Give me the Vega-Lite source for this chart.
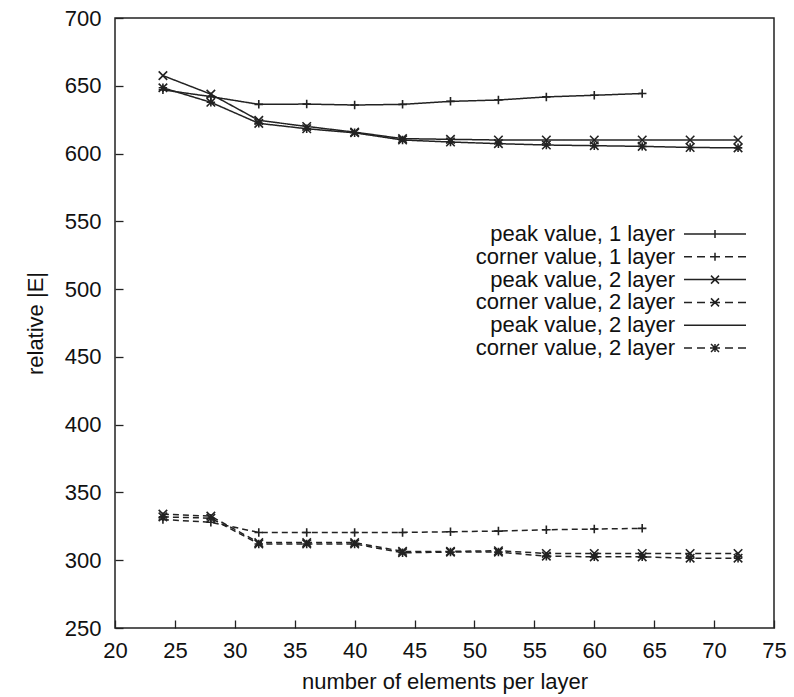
{
  "$schema": "https://vega.github.io/schema/vega-lite/v6.json",
  "autosize": {"type": "none"},
  "padding": {"left": 115, "top": 18, "right": 20, "bottom": 69},
  "width": 659,
  "height": 610,
  "background": "white",
  "data": {"values": [
    {"n": 24, "value": 647, "series": "s1"},
    {"n": 28, "value": 642, "series": "s1"},
    {"n": 32, "value": 636.3, "series": "s1"},
    {"n": 36, "value": 636.5, "series": "s1"},
    {"n": 40, "value": 635.8, "series": "s1"},
    {"n": 44, "value": 636.3, "series": "s1"},
    {"n": 48, "value": 638.5, "series": "s1"},
    {"n": 52, "value": 639.5, "series": "s1"},
    {"n": 56, "value": 641.8, "series": "s1"},
    {"n": 60, "value": 643, "series": "s1"},
    {"n": 64, "value": 644.3, "series": "s1"},
    {"n": 24, "value": 330, "series": "s2"},
    {"n": 28, "value": 328, "series": "s2"},
    {"n": 32, "value": 320.5, "series": "s2"},
    {"n": 36, "value": 320.5, "series": "s2"},
    {"n": 40, "value": 320.5, "series": "s2"},
    {"n": 44, "value": 320.5, "series": "s2"},
    {"n": 48, "value": 321, "series": "s2"},
    {"n": 52, "value": 321.5, "series": "s2"},
    {"n": 56, "value": 322.5, "series": "s2"},
    {"n": 60, "value": 323, "series": "s2"},
    {"n": 64, "value": 323.5, "series": "s2"},
    {"n": 24, "value": 657.5, "series": "s3"},
    {"n": 28, "value": 643.8, "series": "s3"},
    {"n": 32, "value": 624.5, "series": "s3"},
    {"n": 36, "value": 620, "series": "s3"},
    {"n": 40, "value": 615.8, "series": "s3"},
    {"n": 44, "value": 611, "series": "s3"},
    {"n": 48, "value": 610.5, "series": "s3"},
    {"n": 52, "value": 610, "series": "s3"},
    {"n": 56, "value": 610, "series": "s3"},
    {"n": 60, "value": 610, "series": "s3"},
    {"n": 64, "value": 610, "series": "s3"},
    {"n": 68, "value": 610, "series": "s3"},
    {"n": 72, "value": 610, "series": "s3"},
    {"n": 24, "value": 334, "series": "s4"},
    {"n": 28, "value": 332.5, "series": "s4"},
    {"n": 32, "value": 313, "series": "s4"},
    {"n": 36, "value": 313, "series": "s4"},
    {"n": 40, "value": 313, "series": "s4"},
    {"n": 44, "value": 306.5, "series": "s4"},
    {"n": 48, "value": 306.5, "series": "s4"},
    {"n": 52, "value": 307, "series": "s4"},
    {"n": 56, "value": 305, "series": "s4"},
    {"n": 60, "value": 305, "series": "s4"},
    {"n": 64, "value": 305, "series": "s4"},
    {"n": 68, "value": 305, "series": "s4"},
    {"n": 72, "value": 305, "series": "s4"},
    {"n": 24, "value": 648.5, "series": "s5"},
    {"n": 28, "value": 637.8, "series": "s5"},
    {"n": 32, "value": 622.3, "series": "s5"},
    {"n": 36, "value": 618.3, "series": "s5"},
    {"n": 40, "value": 615.3, "series": "s5"},
    {"n": 44, "value": 610, "series": "s5"},
    {"n": 48, "value": 608.5, "series": "s5"},
    {"n": 52, "value": 607.3, "series": "s5"},
    {"n": 56, "value": 606.3, "series": "s5"},
    {"n": 60, "value": 605.8, "series": "s5"},
    {"n": 64, "value": 605.3, "series": "s5"},
    {"n": 68, "value": 604.5, "series": "s5"},
    {"n": 72, "value": 604.2, "series": "s5"},
    {"n": 24, "value": 332, "series": "s6"},
    {"n": 28, "value": 331, "series": "s6"},
    {"n": 32, "value": 312, "series": "s6"},
    {"n": 36, "value": 312, "series": "s6"},
    {"n": 40, "value": 312, "series": "s6"},
    {"n": 44, "value": 305.5, "series": "s6"},
    {"n": 48, "value": 306, "series": "s6"},
    {"n": 52, "value": 306, "series": "s6"},
    {"n": 56, "value": 303, "series": "s6"},
    {"n": 60, "value": 302.5, "series": "s6"},
    {"n": 64, "value": 302.5, "series": "s6"},
    {"n": 68, "value": 301.5, "series": "s6"},
    {"n": 72, "value": 301.5, "series": "s6"}
  ]},
  "encoding": {
    "x": {
      "field": "n", "type": "quantitative",
      "scale": {"domain": [20, 75], "nice": false, "zero": false},
      "axis": {
        "title": "number of elements per layer",
        "values": [20, 25, 30, 35, 40, 45, 50, 55, 60, 65, 70, 75],
        "grid": false, "domain": false, "labelFlush": false,
        "tickSize": -8, "tickColor": "#222", "tickWidth": 1.3,
        "labelPadding": 20,
        "labelFontSize": 22, "titleFontSize": 22,
        "titlePadding": 10,
        "labelFont": "Liberation Sans", "titleFont": "Liberation Sans",
        "labelColor": "#111", "titleColor": "#111", "titleFontWeight": "normal"
      }
    },
    "y": {
      "field": "value", "type": "quantitative",
      "scale": {"domain": [250, 700], "nice": false, "zero": false},
      "axis": {
        "title": "relative |E|",
        "values": [250, 300, 350, 400, 450, 500, 550, 600, 650, 700],
        "grid": false, "domain": false, "labelFlush": false,
        "tickSize": -8, "tickColor": "#222", "tickWidth": 1.3,
        "labelPadding": 22,
        "labelFontSize": 22, "titleFontSize": 22,
        "titlePadding": 17,
        "labelFont": "Liberation Sans", "titleFont": "Liberation Sans",
        "labelColor": "#111", "titleColor": "#111", "titleFontWeight": "normal"
      }
    }
  },
  "layer": [
    {
      "mark": {"type": "line", "color": "#222", "strokeWidth": 1.5},
      "encoding": {
        "detail": {"field": "series"},
        "strokeDash": {
          "field": "series", "type": "nominal",
          "scale": {"domain": ["s1", "s2", "s3", "s4", "s5", "s6"],
                    "range": [[1, 0], [6, 4], [1, 0], [6, 4], [1, 0], [6, 4]]},
          "legend": null
        }
      }
    },
    {
      "mark": {"type": "point", "filled": false, "color": "#222", "strokeWidth": 1.6, "size": 72, "opacity": 1},
      "encoding": {
        "shape": {
          "field": "series", "type": "nominal",
          "scale": {"domain": ["s1", "s2", "s3", "s4", "s5", "s6"],
                    "range": ["M-1,0H1M0,-1V1", "M-1,0H1M0,-1V1", "M-1,-1L1,1M-1,1L1,-1", "M-1,-1L1,1M-1,1L1,-1", "M-1,0H1M0,-1V1M-1,-1L1,1M-1,1L1,-1", "M-1,0H1M0,-1V1M-1,-1L1,1M-1,1L1,-1"]},
          "legend": null
        }
      }
    },
    {
      "mark": {"type": "point", "filled": false, "color": "#222", "strokeWidth": 1.5, "size": 64, "opacity": 0},
      "encoding": {
        "shape": {
          "field": "series", "type": "nominal",
          "scale": {"domain": ["s1", "s2", "s3", "s4", "s5", "s6"],
                    "range": [
                      "M-7.75,0H7.75M0,-1V1",
                      "M-7.75,0H-5.75M-4.5,0H-2.5M-1.25,0H1.25M2.5,0H4.5M5.75,0H7.75M0,-1V1",
                      "M-7.75,0H7.75M-1,-1L1,1M-1,1L1,-1",
                      "M-7.75,0H-5.75M-4.5,0H-2.5M-1.25,0H1.25M2.5,0H4.5M5.75,0H7.75M-1,-1L1,1M-1,1L1,-1",
                      "M-7.75,0H7.75",
                      "M-7.75,0H-5.75M-4.5,0H-2.5M-1.25,0H1.25M2.5,0H4.5M5.75,0H7.75M-1,0H1M0,-1V1M-1,-1L1,1M-1,1L1,-1"
                    ]},
          "legend": {
            "title": null,
            "orient": "none",
            "legendX": 589,
            "legendY": 205,
            "padding": 0,
            "rowPadding": 0.8,
            "symbolSize": 64,
            "symbolStrokeWidth": 1.5,
            "symbolStrokeColor": "#222",
            "symbolFillColor": "transparent",
            "labelAlign": "right",
            "labelOffset": -51,
            "labelLimit": 400,
            "labelFontSize": 22,
            "labelFont": "Liberation Sans",
            "labelColor": "#111",
            "labelExpr": "datum.value == 's1' ? 'peak value, 1 layer' : datum.value == 's2' ? 'corner value, 1 layer' : datum.value == 's3' ? 'peak value, 2 layer' : datum.value == 's4' ? 'corner value, 2 layer' : datum.value == 's5' ? 'peak value, 2 layer' : 'corner value, 2 layer'",
            "encode": {"symbols": {"update": {"opacity": {"value": 1}, "strokeOpacity": {"value": 1}}}}
          }
        }
      }
    }
  ],
  "resolve": {"scale": {"shape": "independent"}, "legend": {"shape": "independent"}},
  "config": {
    "view": {"stroke": "#222", "strokeWidth": 1.5},
    "font": "Liberation Sans"
  }
}
